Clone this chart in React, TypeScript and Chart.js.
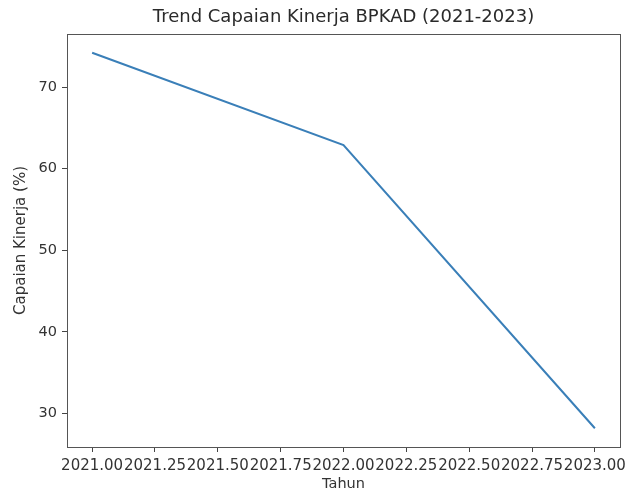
import React, { useEffect, useRef } from "react";
import { Chart, registerables } from "chart.js";

Chart.register(...registerables);

const years = [2021, 2022, 2023];
const capaian = [74.2, 62.9, 28.2];
const xTicks = [2021.0, 2021.25, 2021.5, 2021.75, 2022.0, 2022.25, 2022.5, 2022.75, 2023.0];
const yTicks = [30, 40, 50, 60, 70];
const titleText = "Trend Capaian Kinerja BPKAD (2021-2023)";
const xLabel = "Tahun";
const yLabel = "Capaian Kinerja (%)";

const FONT = "'DejaVu Sans', sans-serif";

const framePlugin = {
  id: "frame",
  afterDraw(chart: any) {
    const { ctx, chartArea } = chart;
    ctx.save();
    ctx.strokeStyle = "#555";
    ctx.lineWidth = 1;
    ctx.strokeRect(
      Math.round(chartArea.left) + 0.5,
      Math.round(chartArea.top) + 0.5,
      Math.round(chartArea.right - chartArea.left),
      Math.round(chartArea.bottom - chartArea.top)
    );
    ctx.fillStyle = "#2a2a2a";
    ctx.font = `18px ${FONT}`;
    ctx.textAlign = "center";
    ctx.textBaseline = "middle";
    ctx.fillText(titleText, (chartArea.left + chartArea.right) / 2, 17);
    ctx.restore();
  },
};

export default function App() {
  const ref = useRef<HTMLCanvasElement | null>(null);
  useEffect(() => {
    document.body.style.margin = "0";
    if (!ref.current) return;
    const chart = new Chart(ref.current, {
      type: "line",
      data: {
        datasets: [
          {
            data: years.map((y, i) => ({ x: y, y: capaian[i] })),
            borderColor: "#3a7fb8",
            borderWidth: 2,
            pointRadius: 0,
            tension: 0,
            fill: false,
          },
        ],
      },
      options: {
        animation: false,
        responsive: false,
        maintainAspectRatio: false,
        layout: { padding: { left: 0, right: 6, top: 34, bottom: 0 } },
        plugins: {
          legend: { display: false },
          title: { display: false },
          tooltip: { enabled: false },
        },
        scales: {
          x: {
            type: "linear",
            min: 2020.9,
            max: 2023.1,
            afterBuildTicks: (s: any) => {
              s.ticks = xTicks.map((v) => ({ value: v }));
            },
            afterFit: (s: any) => {
              s.height = 46;
              s.paddingLeft = 0;
              s.paddingRight = 0;
            },
            ticks: {
              autoSkip: false,
              maxRotation: 0,
              minRotation: 0,
              padding: 5,
              color: "#333",
              font: { family: FONT, size: 15 },
              callback: (v: any) => Number(v).toFixed(2),
            },
            grid: {
              drawOnChartArea: false,
              drawTicks: true,
              tickLength: 5,
              tickColor: "#444",
            },
            border: { color: "#555" },
            title: {
              display: true,
              text: xLabel,
              color: "#333",
              font: { family: FONT, size: 14.5 },
              padding: { top: 0, bottom: 0 },
            },
          },
          y: {
            type: "linear",
            min: 25.9,
            max: 76.5,
            afterBuildTicks: (s: any) => {
              s.ticks = yTicks.map((v) => ({ value: v }));
            },
            afterFit: (s: any) => {
              s.width = 67;
              s.paddingTop = 0;
              s.paddingBottom = 0;
            },
            ticks: {
              padding: 5,
              color: "#333",
              font: { family: FONT, size: 14.5 },
            },
            grid: {
              drawOnChartArea: false,
              drawTicks: true,
              tickLength: 5,
              tickColor: "#444",
            },
            border: { color: "#555" },
            title: {
              display: true,
              text: yLabel,
              color: "#333",
              font: { family: FONT, size: 15 },
              padding: { top: 12, bottom: 0 },
            },
          },
        },
      },
      plugins: [framePlugin],
    });
    return () => chart.destroy();
  }, []);
  return (
    <div style={{ width: 626, height: 493, background: "#fff" }}>
      <canvas ref={ref} width={626} height={493} />
    </div>
  );
}
